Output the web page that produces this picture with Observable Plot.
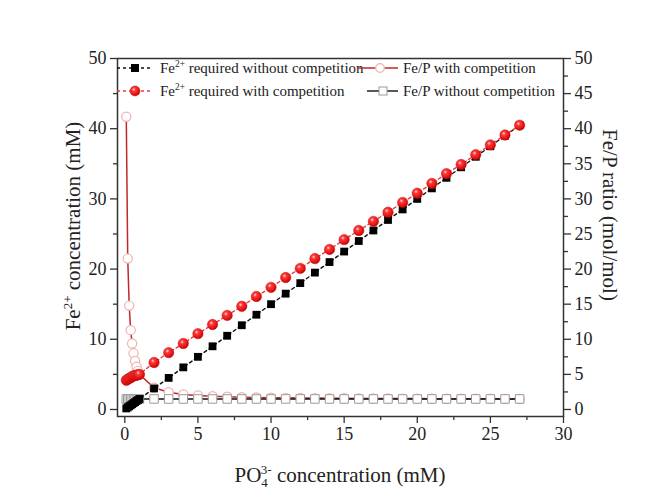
<!DOCTYPE html>
<html><head><meta charset="utf-8">
<script src="https://cdn.jsdelivr.net/npm/d3@7"></script>
<script src="https://cdn.jsdelivr.net/npm/@observablehq/plot@0.6"></script>
<style>body{margin:0;background:#fff}#chart{width:654px;height:501px}</style>
</head><body><div id="chart"></div>
<script>
// PO4(3-) concentration (mM)
const po4 = [0.1,0.2,0.3,0.4,0.5,0.6,0.7,0.8,0.9,1.0,
  2,3,4,5,6,7,8,9,10,11,12,13,14,15,16,17,18,19,20,21,22,23,24,25,26,27];
// Fe2+ required without competition (mM)
const feWithout = [0.15,0.3,0.45,0.6,0.75,0.9,1.05,1.2,1.35,1.5,
  3,4.5,6,7.5,9,10.5,12,13.5,15,16.5,18,19.5,21,22.5,24,25.5,27,28.5,30,31.5,33,34.5,36,37.5,39,40.5];
// Fe2+ required with competition (mM)
const feWith = [4.17,4.3,4.44,4.52,4.7,4.8,4.83,4.88,4.95,5.0,
  6.7,8.1,9.4,10.8,12.1,13.4,14.7,16.1,17.4,18.8,20.1,21.5,22.8,24.2,25.5,26.8,28.1,29.5,30.8,32.2,33.6,34.9,36.3,37.7,39.1,40.5];
// Fe/P with competition (mol/mol)
const ratioWith = [41.7,21.5,14.8,11.3,9.4,8.0,6.9,6.1,5.5,5.0,
  3.1,2.45,2.15,2.0,1.9,1.82,1.76,1.72,1.68,1.66,1.64,1.62,1.6,1.59,1.58,1.57,1.56,1.55,1.55,1.54,1.53,1.53,1.52,1.52,1.51,1.5];
// Fe/P without competition (mol/mol)
const ratioWithout = [1.5,1.5,1.5,1.5,1.5,1.5,1.5,1.5,1.5,1.5,
  1.5,1.5,1.5,1.5,1.5,1.5,1.5,1.5,1.5,1.5,1.5,1.5,1.5,1.5,1.5,1.5,1.5,1.5,1.5,1.5,1.5,1.5,1.5,1.5,1.5,1.5];

const xTicks = [0,5,10,15,20,25,30];
const xMinor = [2.5,7.5,12.5,17.5,22.5,27.5];
const yLeftTicks = [0,10,20,30,40,50];
const yLeftMinor = [5,15,25,35,45];
const yRightTicks = [0,5,10,15,20,25,30,35,40,45,50];
const yRightMinor = [2.5,7.5,12.5,17.5,22.5,27.5,32.5,37.5,42.5,47.5];

const rows = po4.map((p, i) => ({p, feWithout: feWithout[i], feWith: feWith[i], ratioWith: ratioWith[i], ratioWithout: ratioWithout[i]}));

const axisStyle = {stroke: "#333", strokeWidth: 1.3, color: "#222", fontSize: 18};
const svg = Plot.plot({
  width: 654, height: 501,
  marginLeft: 117, marginRight: 91, marginTop: 58, marginBottom: 85,
  style: {fontFamily: "Liberation Serif", fontSize: "18px", background: "#fff"},
  x: {domain: [-0.5, 30], label: null},
  y: {domain: [-1, 50], label: null},
  marks: [
    Plot.axisX(xTicks, {...axisStyle, tickSize: 7, tickPadding: 4}),
    Plot.axisX(xMinor, {...axisStyle, tickSize: 4, tickFormat: () => ""}),
    Plot.axisY(yLeftTicks, {...axisStyle, anchor: "left", tickSize: 7, tickPadding: 4}),
    Plot.axisY(yLeftMinor, {...axisStyle, anchor: "left", tickSize: 4, tickFormat: () => ""}),
    Plot.axisY(yRightTicks, {...axisStyle, anchor: "right", tickSize: 7, tickPadding: 4}),
    Plot.axisY(yRightMinor, {...axisStyle, anchor: "right", tickSize: 4, tickFormat: () => ""}),
    // Fe/P with competition
    Plot.line(rows, {x: "p", y: "ratioWith", stroke: "#c0282a", strokeWidth: 1.5}),
    Plot.dot(rows, {x: "p", y: "ratioWith", r: 4.6, fill: "#fff", stroke: "#f2b0b0", strokeWidth: 1.2}),
    // Fe/P without competition
    Plot.line(rows, {x: "p", y: "ratioWithout", stroke: "#111", strokeWidth: 1.4}),
    Plot.dot(rows, {x: "p", y: "ratioWithout", symbol: "square", r: 4.8, fill: "#fff", stroke: "#9a9a9a", strokeWidth: 1}),
    // Fe2+ without competition
    Plot.line(rows, {x: "p", y: "feWithout", stroke: "#111", strokeWidth: 1.4, strokeDasharray: "3,3"}),
    Plot.dot(rows, {x: "p", y: "feWithout", symbol: "square", r: 4.4, fill: "#000"}),
    // Fe2+ with competition
    Plot.line(rows, {x: "p", y: "feWith", stroke: "#ea3a3a", strokeWidth: 1.4, strokeDasharray: "3,3"}),
    Plot.dot(rows, {x: "p", y: "feWith", r: 5.2, fill: "url(#redball)", stroke: "#c81010", strokeWidth: 0.5}),
    Plot.frame({stroke: "#333", strokeWidth: 1.5})
  ]
});

const s = d3.select(svg);
const defs = s.insert("defs", ":first-child");
const g = defs.append("radialGradient").attr("id", "redball").attr("cx", "38%").attr("cy", "35%").attr("r", "70%");
g.append("stop").attr("offset", "0%").attr("stop-color", "#ffe4e4");
g.append("stop").attr("offset", "25%").attr("stop-color", "#ff3a3a");
g.append("stop").attr("offset", "75%").attr("stop-color", "#e01010");
g.append("stop").attr("offset", "100%").attr("stop-color", "#b00000");

const font = "Liberation Serif";
function supText(sel, parts, size) {
  parts.forEach(([t, kind]) => {
    const ts = sel.append("tspan").text(t);
    if (kind === "sup") ts.attr("font-size", size * 0.62).attr("dy", -size * 0.4);
    else if (kind === "back") ts.attr("dy", size * 0.4);
  });
}

// Axis titles
const lt = s.append("text").attr("font-family", font).attr("font-size", 21).attr("fill", "#222")
  .attr("text-anchor", "middle").attr("transform", "translate(80,226) rotate(-90)");
supText(lt, [["Fe", ""], ["2+", "sup"], [" concentration (mM)", "back"]], 21);

s.append("text").attr("font-family", font).attr("font-size", 21).attr("fill", "#222")
  .attr("text-anchor", "middle").attr("transform", "translate(603,215) rotate(90)")
  .text("Fe/P ratio (mol/mol)");

const xt = s.append("text").attr("font-family", font).attr("font-size", 21).attr("fill", "#222")
  .attr("text-anchor", "middle").attr("x", 340).attr("y", 482);
xt.append("tspan").text("PO");
xt.append("tspan").text("4").attr("font-size", 13).attr("dy", 5);
xt.append("tspan").text("3-").attr("font-size", 13).attr("dx", -7).attr("dy", -13);
xt.append("tspan").text(" concentration (mM)").attr("dy", 8);

// Legend
const L = s.append("g").attr("font-family", font).attr("font-size", 15).attr("fill", "#222").attr("text-anchor", "start");
function legText(x, y, parts) {
  const t = L.append("text").attr("x", x).attr("y", y).attr("text-anchor", "start");
  supText(t, parts, 15);
}
// item 1
L.append("line").attr("x1", 117).attr("x2", 152).attr("y1", 68).attr("y2", 68).attr("stroke", "#111").attr("stroke-width", 1.3).attr("stroke-dasharray", "3,3");
L.append("rect").attr("x", 131).attr("y", 64).attr("width", 8).attr("height", 8).attr("fill", "#000");
legText(160, 73, [["Fe", ""], ["2+", "sup"], [" required without competition", "back"]]);
// item 2
L.append("line").attr("x1", 358).attr("x2", 398).attr("y1", 68).attr("y2", 68).attr("stroke", "#c0282a").attr("stroke-width", 1.5);
L.append("circle").attr("cx", 380).attr("cy", 68).attr("r", 4.3).attr("fill", "#fff").attr("stroke", "#f2b0b0").attr("stroke-width", 1.2);
legText(403, 73, [["Fe/P with competition", ""]]);
// item 3
L.append("line").attr("x1", 117).attr("x2", 152).attr("y1", 91).attr("y2", 91).attr("stroke", "#ea3a3a").attr("stroke-width", 1.3).attr("stroke-dasharray", "3,3");
L.append("circle").attr("cx", 135).attr("cy", 91).attr("r", 5).attr("fill", "url(#redball)").attr("stroke", "#c81010").attr("stroke-width", 0.5);
legText(160, 96, [["Fe", ""], ["2+", "sup"], [" required with competition", "back"]]);
// item 4
L.append("line").attr("x1", 367).attr("x2", 398).attr("y1", 91).attr("y2", 91).attr("stroke", "#111").attr("stroke-width", 1.4);
L.append("rect").attr("x", 379).attr("y", 87).attr("width", 8).attr("height", 8).attr("fill", "#fff").attr("stroke", "#9a9a9a");
legText(403, 96, [["Fe/P without competition", ""]]);

document.getElementById("chart").append(svg);
</script></body></html>
